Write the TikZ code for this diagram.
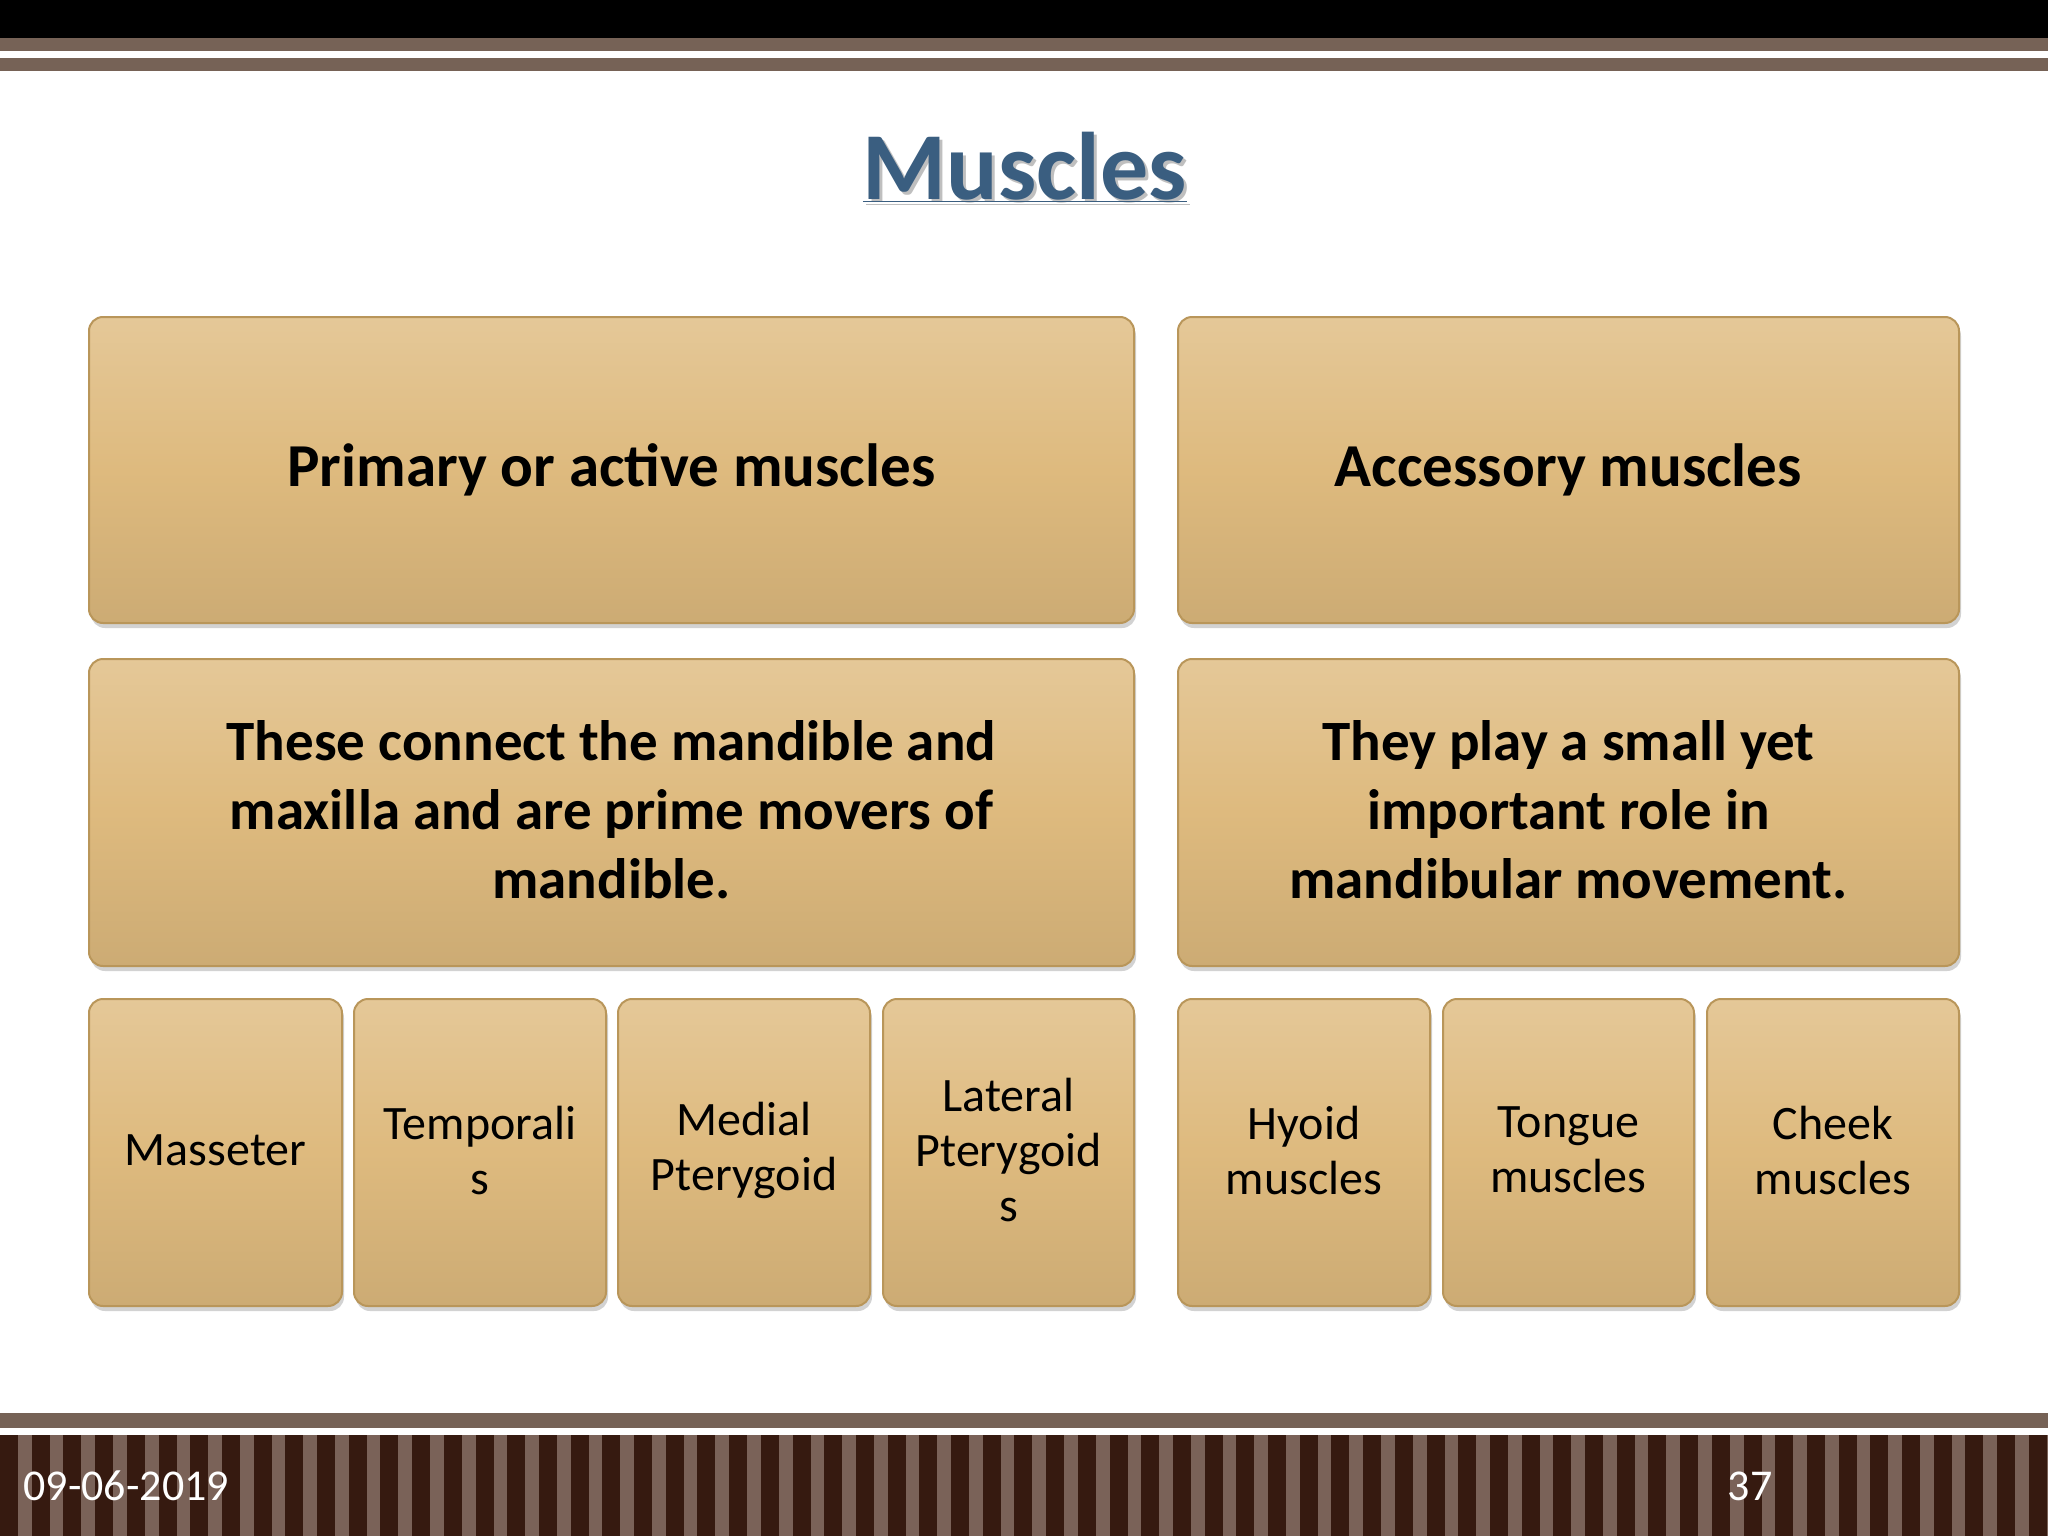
\documentclass[tikz,border=0pt]{standalone}
\usepackage{fontspec}
\setmainfont{Carlito}
\usetikzlibrary{shadows}
\definecolor{boxc}{RGB}{222,186,126}
\definecolor{boxd}{RGB}{185,150,90}
\definecolor{barc}{RGB}{118,98,86}
\definecolor{darkst}{RGB}{54,26,16}
\definecolor{lightst}{RGB}{122,98,88}
\definecolor{titlec}{RGB}{58,94,128}
\tikzset{
  mbox/.style={draw=boxd, line width=2pt, rounded corners=14pt, top color=boxc!80!white, bottom color=boxc!92!black, middle color=boxc, drop shadow={shadow xshift=2pt, shadow yshift=-5pt, opacity=0.35}},
  big/.style={font=\fontsize{61}{70}\selectfont\bfseries, align=center},
  mid/.style={font=\fontsize{57}{69}\selectfont\bfseries, align=center},
  small/.style={font=\fontsize{48}{55}\selectfont, align=center},
}
\begin{document}
\begin{tikzpicture}[x=1pt,y=-1pt]
\useasboundingbox (0,0) rectangle (2048,1536);
\fill[white] (0,0) rectangle (2048,1536);
% top bars
\fill[black] (0,0) rectangle (2048,38);
\fill[barc] (0,38) rectangle (2048,51);
\fill[barc] (0,58) rectangle (2048,71);
% bottom bars
\fill[barc] (0,1413) rectangle (2048,1428);
\fill[lightst] (0,1435) rectangle (2048,1536);
\foreach \i in {0,...,64} {
  \fill[darkst] ({\i*31.7},1435) rectangle ({\i*31.7+18},1536);
}
% title
\node[font=\fontsize{96}{110}\selectfont\bfseries, text=black!50, opacity=0.5] at (1028,170) {\underline{Muscles}};
\node[font=\fontsize{96}{110}\selectfont\bfseries, text=titlec] (title) at (1025,167) {\underline{Muscles}};
% row 1
\path[mbox] (89,317) rectangle (1134,623);
\node[big] (p) at (611.5,470) {Primary or active muscles};
\path[mbox] (1178,317) rectangle (1959,623);
\node[big] (a) at (1568.5,470) {Accessory muscles};
% row 2
\path[mbox] (89,659) rectangle (1134,966);
\node[mid] (pd) at (611.5,810) {These connect the mandible and\\maxilla and are prime movers of\\mandible.};
\path[mbox] (1178,659) rectangle (1959,966);
\node[mid] (ad) at (1568.5,810) {They play a small yet\\important role in\\mandibular movement.};
% row 3
\path[mbox] (89,999) rectangle (342,1306);
\node[small] (m1) at (215.5,1150) {Masseter};
\path[mbox] (354,999) rectangle (606,1306);
\node[small] (m2) at (480,1150) {Temporali\\s};
\path[mbox] (618,999) rectangle (870,1306);
\node[small] (m3) at (744,1150) {Medial\\Pterygoid};
\path[mbox] (883,999) rectangle (1134,1306);
\node[small] (m4) at (1008.5,1150) {Lateral\\Pterygoid\\s};
\path[mbox] (1178,999) rectangle (1430,1306);
\node[small] (a1) at (1304,1150) {Hyoid\\muscles};
\path[mbox] (1443,999) rectangle (1694,1306);
\node[small] (a2) at (1568.5,1150) {Tongue\\muscles};
\path[mbox] (1707,999) rectangle (1959,1306);
\node[small] (a3) at (1833,1150) {Cheek\\muscles};
% footer
\node[font=\fontsize{44}{50}\selectfont, text=white, anchor=west] (date) at (20,1486) {09-06-2019};
\node[font=\fontsize{44}{50}\selectfont, text=white] (num) at (1750,1486) {37};
\end{tikzpicture}
\end{document}
